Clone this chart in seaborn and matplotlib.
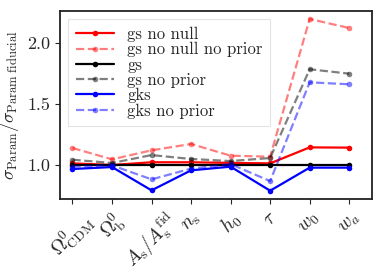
import numpy as np
import pandas as pd
import matplotlib
matplotlib.use("Agg")
import matplotlib.pyplot as plt
import seaborn as sns

params = [r"$\Omega^0_{\rm CDM}$", r"$\Omega^0_{\rm b}$", r"$A_{\rm s}/A_{\rm s}^{\rm fid}$",
          r"$n_{\rm s}$", r"$h_0$", r"$\tau$", r"$w_0$", r"$w_a$"]

gs_no_null = [1.016, 1.003, 1.025, 1.025, 1.020, 1.016, 1.147, 1.145]
gs_no_null_no_prior = [1.142, 1.049, 1.123, 1.175, 1.079, 1.071, 2.199, 2.125]
gs = [1.0, 1.0, 1.0, 1.0, 1.0, 1.0, 1.0, 1.0]
gs_no_prior = [1.046, 1.019, 1.084, 1.052, 1.035, 1.060, 1.787, 1.751]
gks = [0.970, 0.986, 0.795, 0.959, 0.989, 0.792, 0.981, 0.981]
gks_no_prior = [0.990, 1.000, 0.885, 0.973, 1.010, 0.871, 1.680, 1.664]

series = [
    ("gs no null", gs_no_null, "red", "-", 1.0),
    ("gs no null no prior", gs_no_null_no_prior, "red", "--", 0.5),
    ("gs", gs, "black", "-", 1.0),
    ("gs no prior", gs_no_prior, "black", "--", 0.5),
    ("gks", gks, "blue", "-", 1.0),
    ("gks no prior", gks_no_prior, "blue", "--", 0.5),
]

sns.set_style("ticks")
plt.rcParams["font.family"] = ["cmr10", "DejaVu Serif"]
plt.rcParams["mathtext.fontset"] = "cm"
plt.rcParams["axes.formatter.use_mathtext"] = True
plt.rcParams["axes.unicode_minus"] = False

fig = plt.figure(figsize=(3.74, 2.73), dpi=100)
ax = fig.add_axes([0.160, 0.271, 0.835, 0.689])

x = np.arange(len(params))
for name, vals, col, ls, a in series:
    sns.lineplot(x=x, y=vals, ax=ax, color=col, linestyle=ls, alpha=a,
                 marker="o", markersize=4, markeredgewidth=0, linewidth=1.6,
                 label=name)

ax.set_xlim(-0.32, 7.58)
ax.set_ylim(0.724, 2.265)
ax.set_yticks([1.0, 1.5, 2.0])
ax.set_yticklabels(["1.0", "1.5", "2.0"])
ax.set_xticks(x)
ax.set_xticklabels(params, rotation=45, fontsize=14)
ax.tick_params(axis="y", labelsize=13)
ax.set_ylabel(r"$\sigma_{\rm Param}/\sigma_{\rm Param\ fiducial}$", fontsize=13)
for s in ax.spines.values():
    s.set_visible(True)
    s.set_color("#222222")
    s.set_linewidth(1.3)

leg = ax.legend(loc="upper left", fontsize=12, frameon=True, handlelength=2.3,
                labelspacing=0.0, borderpad=0.45, handletextpad=0.8, fancybox=False)
leg.get_frame().set_edgecolor("#dddddd")
leg.get_frame().set_linewidth(0.8)

fig.savefig("out.png", dpi=100)
